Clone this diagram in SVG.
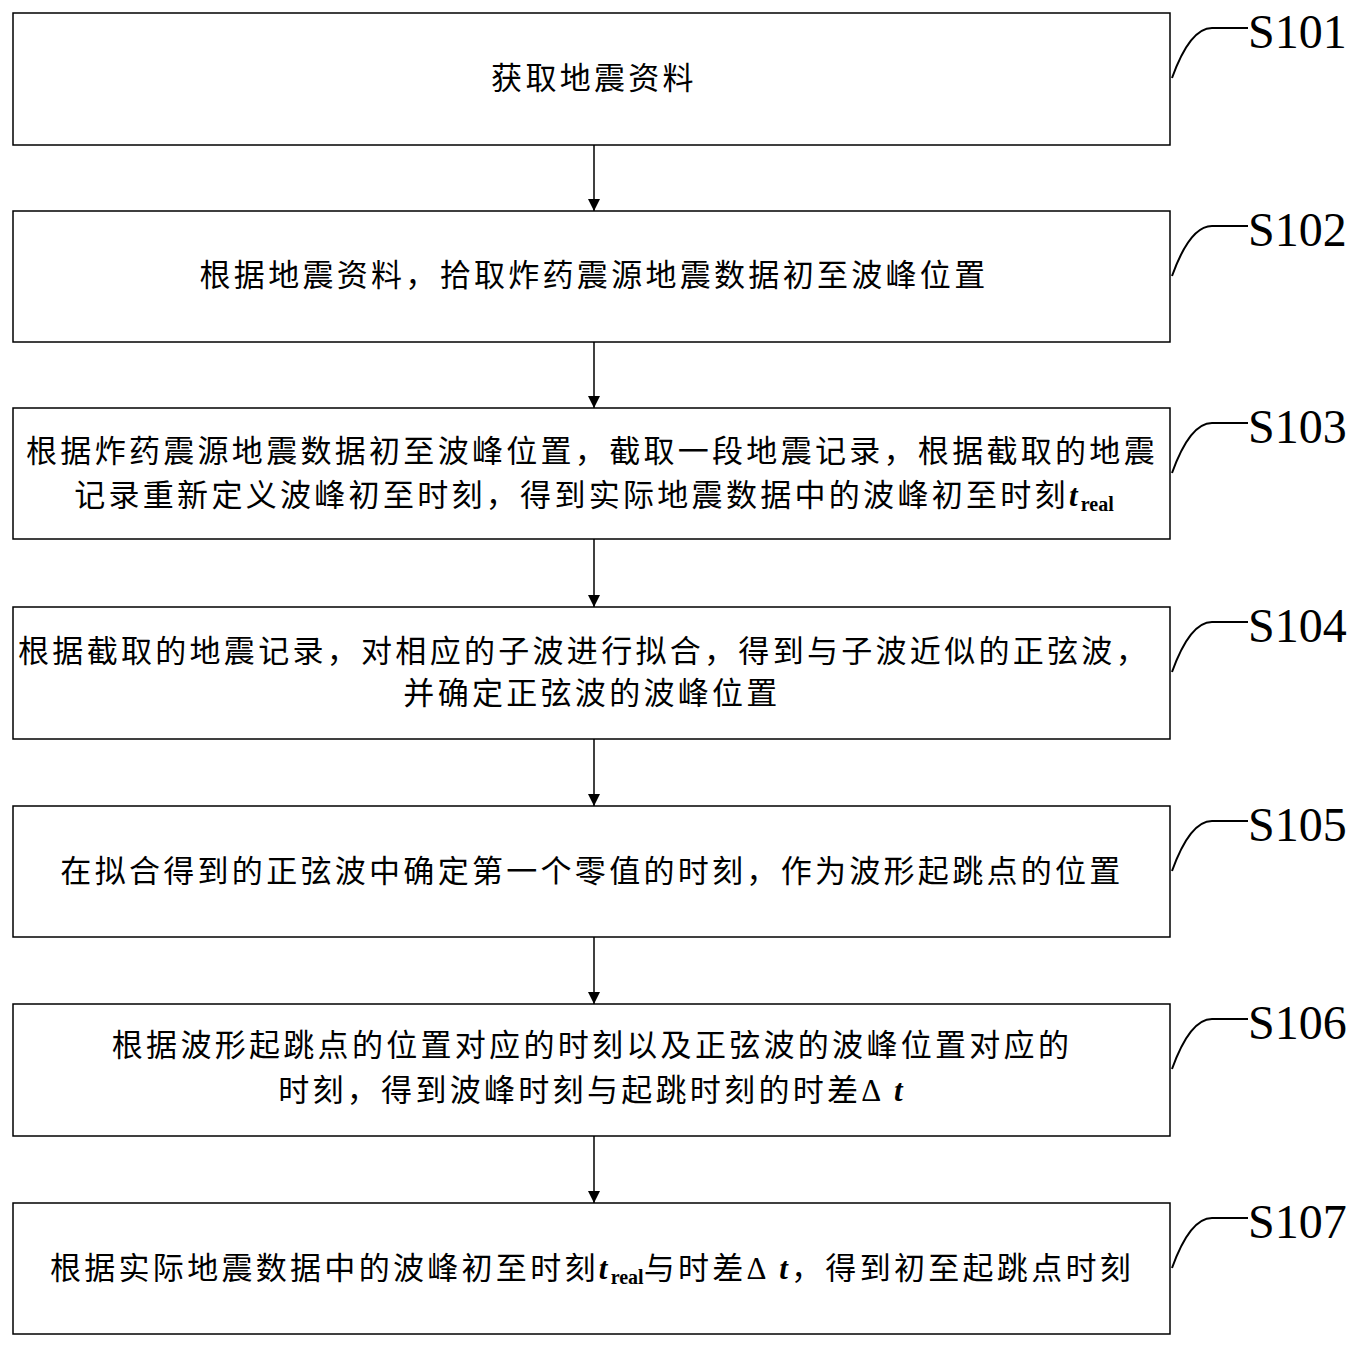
<svg xmlns="http://www.w3.org/2000/svg" width="1367" height="1350" viewBox="0 0 1367 1350">
<defs>
<style>
.b{fill:#fff;stroke:#000;stroke-width:1.5}
.t{font-family:"Liberation Serif","Noto Sans CJK SC",serif;font-size:31px;letter-spacing:3.3px;text-anchor:middle;fill:#000}
.l{font-family:"Liberation Serif",serif;font-size:48px;fill:#000}
.c{fill:none;stroke:#000;stroke-width:2}
.s{font-size:20px;font-weight:bold;letter-spacing:0}
.i{font-style:italic;font-weight:bold}
</style>
<marker id="a" markerWidth="12" markerHeight="14" refX="12" refY="7" orient="auto" markerUnits="userSpaceOnUse"><path d="M0,1L12,7L0,13z" fill="#000"/></marker>
</defs>
<rect width="1367" height="1350" fill="#fff"/>
<g id="n1"><rect class="b" x="13" y="13" width="1157" height="132"/><text class="t" x="594" y="89">获取地震资料</text><path class="c" d="M1172,78 Q1190,28 1212,28 L1248,28"/><text class="l" x="1248" y="48">S101</text></g>
<g id="n2"><rect class="b" x="13" y="211" width="1157" height="131"/><text class="t" x="594" y="286">根据地震资料，拾取炸药震源地震数据初至波峰位置</text><path class="c" d="M1172,276 Q1190,226 1212,226 L1248,226"/><text class="l" x="1248" y="246">S102</text></g>
<g id="n3"><rect class="b" x="13" y="408" width="1157" height="131"/><text class="t" x="592" y="462">根据炸药震源地震数据初至波峰位置，截取一段地震记录，根据截取的地震</text><text class="t" x="594" y="506">记录重新定义波峰初至时刻，得到实际地震数据中的波峰初至时刻<tspan class="i">t</tspan><tspan class="s" dy="5">real</tspan></text><path class="c" d="M1172,473 Q1190,423 1212,423 L1248,423"/><text class="l" x="1248" y="443">S103</text></g>
<g id="n4"><rect class="b" x="13" y="607" width="1157" height="132"/><text class="t" x="584" y="662">根据截取的地震记录，对相应的子波进行拟合，得到与子波近似的正弦波，</text><text class="t" x="592" y="704">并确定正弦波的波峰位置</text><path class="c" d="M1172,672 Q1190,622 1212,622 L1248,622"/><text class="l" x="1248" y="642">S104</text></g>
<g id="n5"><rect class="b" x="13" y="806" width="1157" height="131"/><text class="t" x="592" y="882">在拟合得到的正弦波中确定第一个零值的时刻，作为波形起跳点的位置</text><path class="c" d="M1172,871 Q1190,821 1212,821 L1248,821"/><text class="l" x="1248" y="841">S105</text></g>
<g id="n6"><rect class="b" x="13" y="1004" width="1157" height="132"/><text class="t" x="592" y="1056">根据波形起跳点的位置对应的时刻以及正弦波的波峰位置对应的</text><text class="t" x="592" y="1101">时刻，得到波峰时刻与起跳时刻的时差Δ <tspan class="i">t</tspan></text><path class="c" d="M1172,1069 Q1190,1019 1212,1019 L1248,1019"/><text class="l" x="1248" y="1039">S106</text></g>
<g id="n7"><rect class="b" x="13" y="1203" width="1157" height="131"/><text class="t" x="592" y="1279">根据实际地震数据中的波峰初至时刻<tspan class="i">t</tspan><tspan class="s" dy="5">real</tspan><tspan dy="-5">与时差Δ </tspan><tspan class="i">t</tspan>，得到初至起跳点时刻</text><path class="c" d="M1172,1268 Q1190,1218 1212,1218 L1248,1218"/><text class="l" x="1248" y="1238">S107</text></g>
<g id="edges" stroke="#000" stroke-width="1.5">
<line x1="594" y1="145" x2="594" y2="211" marker-end="url(#a)"/>
<line x1="594" y1="342" x2="594" y2="408" marker-end="url(#a)"/>
<line x1="594" y1="539" x2="594" y2="607" marker-end="url(#a)"/>
<line x1="594" y1="739" x2="594" y2="806" marker-end="url(#a)"/>
<line x1="594" y1="937" x2="594" y2="1004" marker-end="url(#a)"/>
<line x1="594" y1="1136" x2="594" y2="1203" marker-end="url(#a)"/>
</g>
</svg>
